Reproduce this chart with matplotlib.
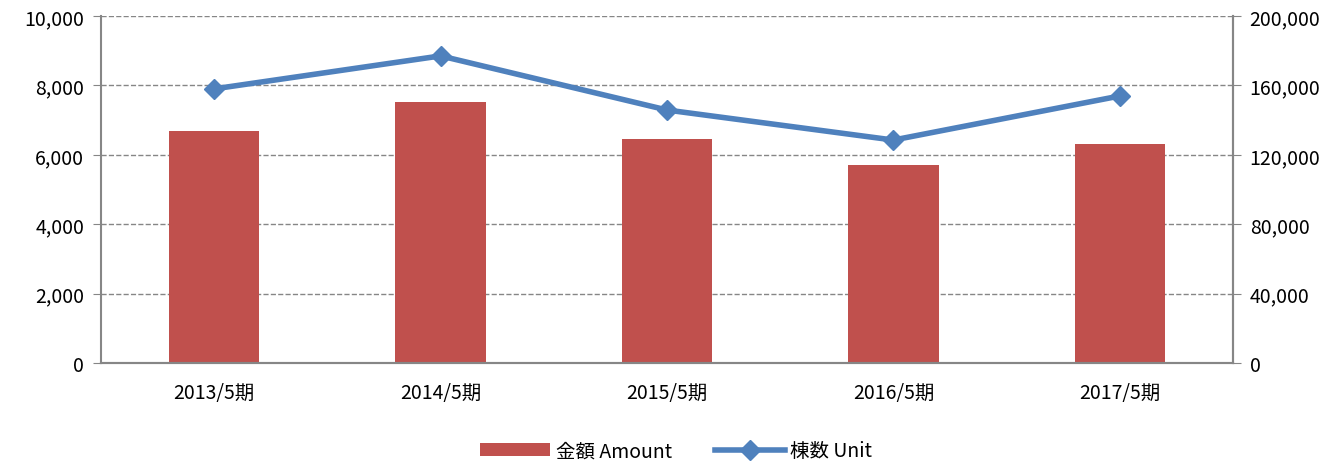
import matplotlib
matplotlib.use('Agg')
import matplotlib.pyplot as plt
import numpy as np

plt.rcParams['font.family'] = ['Noto Sans CJK JP', 'DejaVu Sans']

periods = ['2013/5期', '2014/5期', '2015/5期', '2016/5期', '2017/5期']
amount = [6690, 7520, 6460, 5710, 6310]
units = [158000, 177000, 145800, 128500, 153900]

bar_color = '#C0504D'
line_color = '#4F81BD'
axis_color = '#868686'

fig = plt.figure(figsize=(13.39, 4.64), dpi=100)
ax = fig.add_axes([101 / 1339, 1 - 364 / 464, 1132 / 1339, 347 / 464])
ax2 = ax.twinx()

x = np.arange(len(periods))
ax.bar(x, amount, width=0.4, color=bar_color, label='金額 Amount', zorder=2)
ax2.plot(x, units, color=line_color, lw=4, marker='D', ms=10, label='棟数 Unit', zorder=3)

ax.set_xlim(-0.5, len(periods) - 0.5)
ax.set_ylim(0, 10000)
ax2.set_ylim(0, 200000)
ax.set_yticks(np.arange(0, 10001, 2000))
ax2.set_yticks(np.arange(0, 200001, 40000))
fmt = matplotlib.ticker.FuncFormatter(lambda v, p: f'{int(v):,}')
ax.yaxis.set_major_formatter(fmt)
ax2.yaxis.set_major_formatter(fmt)
ax.set_xticks(x)
ax.set_xticklabels(periods)

ax.grid(axis='y', color=axis_color, linestyle='--', lw=1, zorder=0)
ax.set_axisbelow(True)

for a in (ax, ax2):
    a.spines['top'].set_visible(False)
    for s in ('left', 'right', 'bottom'):
        a.spines[s].set_color(axis_color)
        a.spines[s].set_linewidth(1.5)
    a.tick_params(axis='y', length=6, color=axis_color, labelsize=14, pad=6)
ax.tick_params(axis='x', length=0, labelsize=14, pad=14)
ax2.spines['left'].set_visible(False)

ax2.set_zorder(ax.get_zorder() + 1)
ax2.patch.set_visible(False)

h1, l1 = ax.get_legend_handles_labels()
h2, l2 = ax2.get_legend_handles_labels()
fig.legend(h1 + h2, l1 + l2, loc='center', bbox_to_anchor=(0.505, 0.026), ncol=2,
           frameon=False, fontsize=14, handlelength=3.6, columnspacing=2.2, handletextpad=0.3)

fig.savefig('out.png', dpi=100)
